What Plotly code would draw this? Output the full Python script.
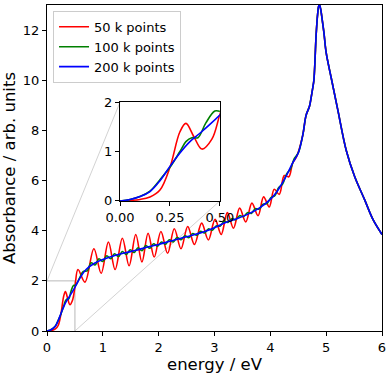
import plotly.graph_objects as go

# ---- data ----
SERIES_NAMES = ["50 k points", "100 k points", "200 k points"]
COLORS = ["red", "green", "blue"]

# shared tail (curves coincide above ~4.5 eV)
tail_e = [4.58, 4.64, 4.70, 4.73, 4.76, 4.78, 4.80, 4.82, 4.85, 4.865, 4.88, 4.90,
          4.93, 4.96, 5.00, 5.09, 5.21, 5.36, 5.51, 5.69, 5.84, 6.00]
tail_a = [7.80, 8.60, 8.95, 9.30, 9.70, 10.0, 10.8, 11.8, 12.7, 12.95, 13.0, 12.85,
          12.4, 11.9, 11.1, 10.1, 8.80, 7.20, 6.16, 5.23, 4.44, 3.85]

blue_e = [0, 0.05, 0.1, 0.15, 0.2, 0.25, 0.3, 0.35, 0.4, 0.45, 0.5, 0.6, 0.7, 0.85,
          1.0, 1.2, 1.4, 1.6, 1.8, 2.0, 2.2, 2.4, 2.6, 2.8, 3.0, 3.2, 3.4, 3.6, 3.8,
          4.0, 4.1, 4.2, 4.3, 4.4, 4.5]
blue_a = [0, 0.03, 0.09, 0.19, 0.41, 0.70, 0.97, 1.20, 1.37, 1.55, 1.74, 2.15, 2.45, 2.70,
          2.85, 3.00, 3.12, 3.22, 3.35, 3.45, 3.58, 3.70, 3.82, 3.95, 4.12, 4.33, 4.48, 4.66, 4.90,
          5.25, 5.50, 5.85, 6.25, 6.70, 7.10]

green_e = [0, 0.05, 0.1, 0.15, 0.2, 0.25, 0.3, 0.33, 0.36, 0.39, 0.43, 0.475, 0.51, 0.58,
           0.65, 0.72, 0.79, 0.86, 0.93, 1.0, 1.07, 1.14, 1.21, 1.28, 1.35, 1.42, 1.49,
           1.56, 1.63, 1.7, 1.77, 1.84, 1.91, 1.98, 2.05, 2.12, 2.19, 2.26, 2.33, 2.4,
           2.47, 2.54, 2.61, 2.68, 2.75, 2.82, 2.89, 2.96, 3.03, 3.1, 3.17, 3.24, 3.31,
           3.38, 3.45, 3.52, 3.59, 3.66, 3.73, 3.8, 3.87, 3.94, 4.01, 4.08, 4.15, 4.22,
           4.29, 4.36, 4.43, 4.5]
green_a = [0, 0.03, 0.09, 0.20, 0.43, 0.68, 1.00, 1.20, 1.28, 1.28, 1.58, 1.82, 1.82, 2.10,
           2.38, 2.40, 2.72, 2.63, 2.88, 2.77, 3.00, 2.88, 3.08, 2.97, 3.17, 3.05, 3.24,
           3.13, 3.32, 3.20, 3.41, 3.30, 3.48, 3.38, 3.55, 3.46, 3.64, 3.55, 3.73, 3.64,
           3.80, 3.72, 3.89, 3.82, 3.98, 3.91, 4.07, 4.02, 4.19, 4.18, 4.37, 4.33, 4.48,
           4.44, 4.60, 4.56, 4.72, 4.69, 4.88, 4.86, 5.06, 5.08, 5.32, 5.40, 5.72, 5.86,
           6.26, 6.46, 6.88, 7.10]

red_e = [0, 0.1, 0.15, 0.2, 0.25, 0.3, 0.33, 0.37, 0.41, 0.46, 0.5, 0.555, 0.68, 0.84,
         0.97, 1.1, 1.22, 1.35, 1.47, 1.59, 1.7, 1.81, 1.92, 2.04, 2.16, 2.28, 2.4, 2.52,
         2.64, 2.77, 2.89, 3.01, 3.12, 3.23, 3.34, 3.45, 3.56, 3.67, 3.78, 3.88, 3.98,
         4.07, 4.16, 4.25, 4.33, 4.4, 4.47]
red_a = [0, 0.03, 0.08, 0.22, 0.68, 1.40, 1.57, 1.30, 1.05, 1.25, 1.75, 2.45, 1.95, 3.28,
         2.30, 3.55, 2.45, 3.70, 2.60, 3.85, 2.75, 3.90, 2.95, 3.97, 3.10, 4.08, 3.28, 4.17,
         3.45, 4.30, 3.63, 4.45, 3.85, 4.72, 4.10, 4.90, 4.35, 5.10, 4.60, 5.35, 4.95,
         5.65, 5.45, 6.20, 6.15, 6.70, 6.95]

X_RANGE = [0, 6]
Y_RANGE = [0, 13]
INSET_X = [0, 0.5]
INSET_Y = [0, 2]
INSET_DOM_X = [0.218, 0.516]
INSET_DOM_Y = [0.399, 0.702]

FONT = "DejaVu Sans, Arial, sans-serif"

series = [
    (red_e + tail_e, red_a + tail_a),
    (green_e + tail_e, green_a + tail_a),
    (blue_e + tail_e, blue_a + tail_a),
]

fig = go.Figure()
for (e, a), name, col in zip(series, SERIES_NAMES, COLORS):
    fig.add_trace(go.Scatter(x=e, y=a, name=name, mode="lines",
                             line=dict(color=col, width=1.6, shape="spline", smoothing=1.0),
                             xaxis="x", yaxis="y"))
for (e, a), name, col in zip(series, SERIES_NAMES, COLORS):
    fig.add_trace(go.Scatter(x=e, y=a, name=name, mode="lines", showlegend=False,
                             line=dict(color=col, width=1.6, shape="spline", smoothing=1.0),
                             xaxis="x2", yaxis="y2"))


def to_paper(e, a):
    return (e - X_RANGE[0]) / (X_RANGE[1] - X_RANGE[0]), (a - Y_RANGE[0]) / (Y_RANGE[1] - Y_RANGE[0])


# zoom rectangle in main axes
GRAY = "#c4c4c4"
fig.add_shape(type="line", xref="x", yref="y", x0=INSET_X[0], y0=INSET_Y[1], x1=INSET_X[1], y1=INSET_Y[1],
              line=dict(color=GRAY, width=1.2), layer="below")
fig.add_shape(type="line", xref="x", yref="y", x0=INSET_X[1], y0=INSET_Y[0], x1=INSET_X[1], y1=INSET_Y[1],
              line=dict(color=GRAY, width=1.2), layer="below")
# connectors
px0, py0 = to_paper(INSET_X[0], INSET_Y[1])
fig.add_shape(type="line", xref="paper", yref="paper", x0=px0, y0=py0, x1=INSET_DOM_X[0], y1=INSET_DOM_Y[1],
              line=dict(color="#d3d3d3", width=1), layer="below")
px1, py1 = to_paper(INSET_X[1], INSET_Y[0])
fig.add_shape(type="line", xref="paper", yref="paper", x0=px1, y0=py1, x1=INSET_DOM_X[1], y1=INSET_DOM_Y[0],
              line=dict(color="#d3d3d3", width=1), layer="below")

axis_common = dict(showline=True, mirror=True, linecolor="black", linewidth=1.3,
                   ticks="outside", ticklen=4, tickwidth=1.2, tickcolor="black",
                   showgrid=False, zeroline=False, automargin=False,
                   tickfont=dict(family=FONT, size=13, color="black"))

fig.update_layout(
    width=391, height=374,
    margin=dict(l=47, r=9, t=5, b=43),
    paper_bgcolor="white",
    plot_bgcolor="rgba(0,0,0,0)",
    font=dict(family=FONT, size=13, color="black"),
    xaxis=dict(**axis_common, range=X_RANGE, tickvals=[0, 1, 2, 3, 4, 5, 6],
               title=dict(text="energy / eV", font=dict(family=FONT, size=16.5), standoff=1)),
    yaxis=dict(**axis_common, range=Y_RANGE, tickvals=[0, 2, 4, 6, 8, 10, 12],
               title=dict(text="Absorbance / arb. units", font=dict(family=FONT, size=16.5), standoff=2)),
    xaxis2=dict(**axis_common, range=INSET_X, domain=INSET_DOM_X, anchor="y2",
                tickvals=[0, 0.25, 0.5], tickformat=".2f"),
    yaxis2=dict(**axis_common, range=INSET_Y, domain=INSET_DOM_Y, anchor="x2",
                tickvals=[0, 1, 2]),
    legend=dict(x=0.018, y=0.982, xanchor="left", yanchor="top",
                bgcolor="white", bordercolor="#cccccc", borderwidth=1,
                font=dict(family=FONT, size=13, color="black")),
    showlegend=True,
)

# page body has a default 8px margin; remove it so the figure fills the window
fig.write_html("out.html", config={"displayModeBar": False},
               post_script="document.body.style.margin='0';")
